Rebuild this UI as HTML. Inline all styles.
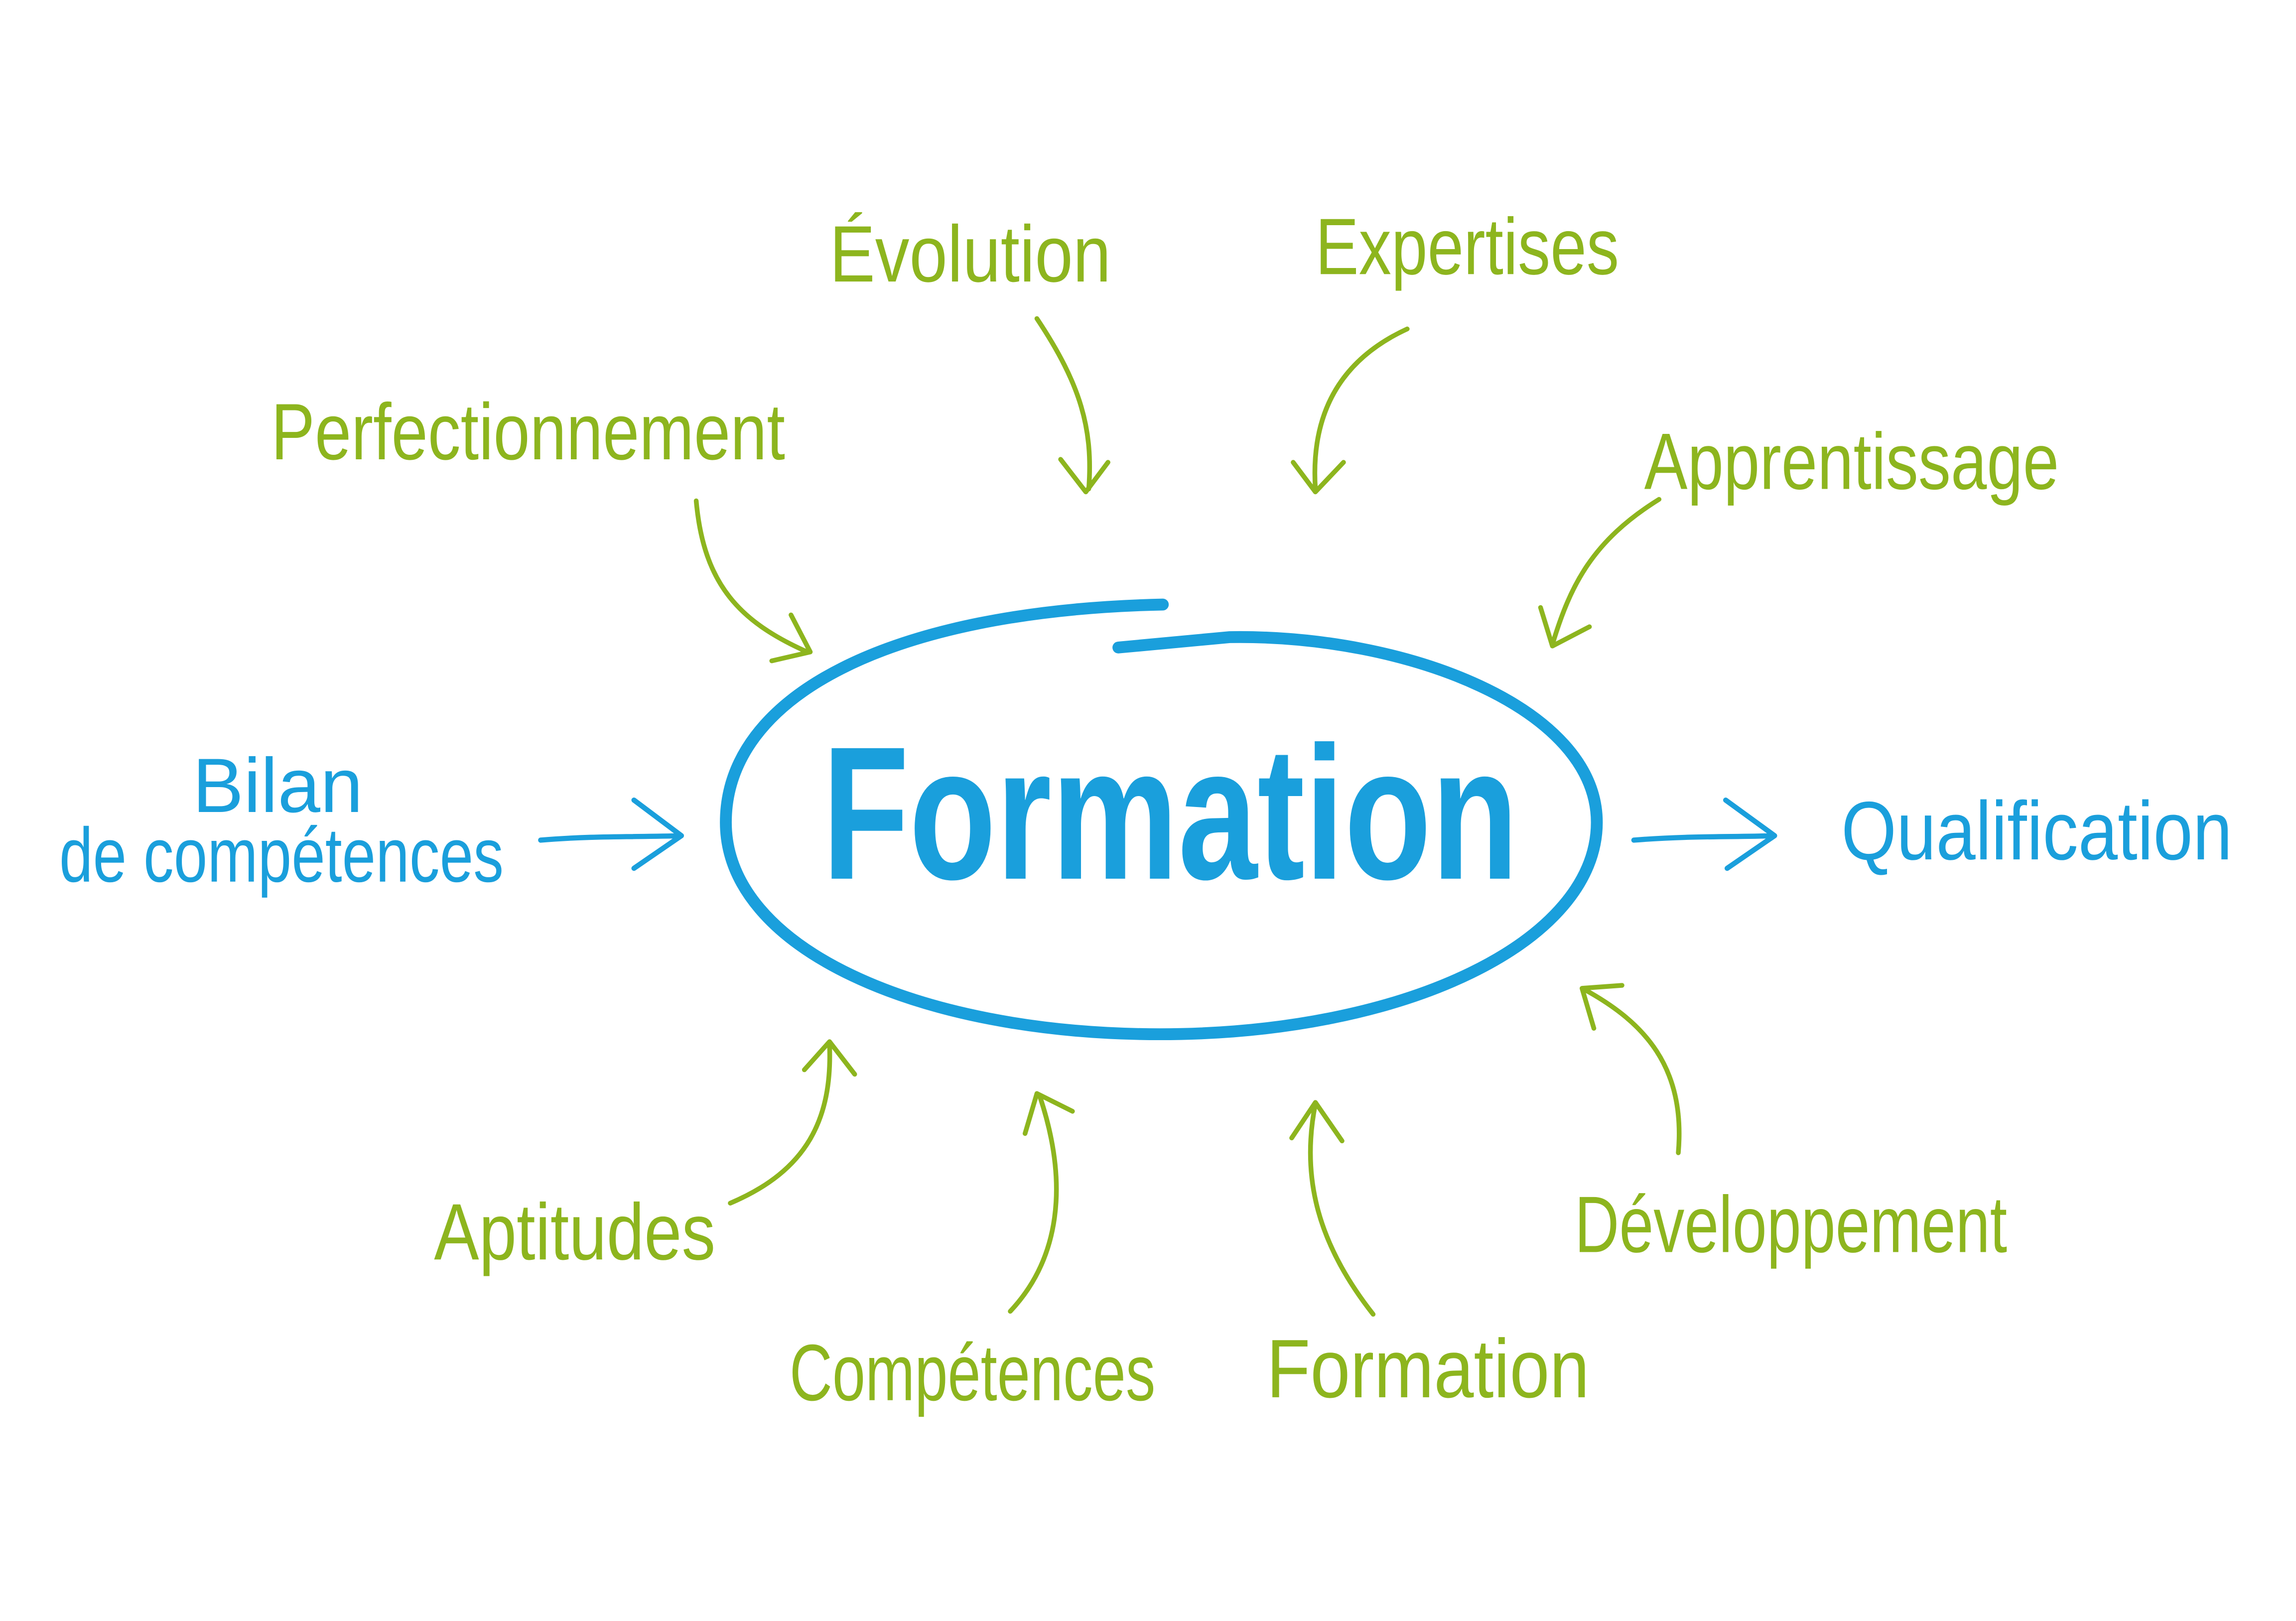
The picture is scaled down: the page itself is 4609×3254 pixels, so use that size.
<!DOCTYPE html>
<html><head><meta charset="utf-8">
<style>
html,body{margin:0;padding:0;background:#fff;}
svg{display:block;}
text{font-family:"Liberation Sans",sans-serif;}
.g{fill:#8db51e;}
.b{fill:#1a9fdc;}
.ga{fill:none;stroke:#8db51e;stroke-width:3.2;stroke-linecap:round;stroke-linejoin:round;}
.ba{fill:none;stroke:#1a9fdc;stroke-width:3.5;stroke-linecap:round;stroke-linejoin:round;}
</style></head>
<body>
<svg width="4609" height="3254" viewBox="0 0 1550 1094" preserveAspectRatio="none" xmlns="http://www.w3.org/2000/svg">
<rect width="1550" height="1094" fill="#fff"/>
<path d="M785 408 C600 412 490 470 490 555 C490 640 620 698 783 698 C950 698 1078 635 1078 555 C1078 478 950 428 830 430 L755 437" fill="none" stroke="#1a9fdc" stroke-width="8" stroke-linecap="round"/>
<text class="b" x="555" y="593" font-size="128" font-weight="bold" textLength="470" lengthAdjust="spacingAndGlyphs">Formation</text>

<text class="g" x="560" y="190" font-size="54" textLength="190" lengthAdjust="spacingAndGlyphs">Évolution</text>
<text class="g" x="888" y="185" font-size="54" textLength="205" lengthAdjust="spacingAndGlyphs">Expertises</text>
<text class="g" x="183" y="310" font-size="54" textLength="347" lengthAdjust="spacingAndGlyphs">Perfectionnement</text>
<text class="g" x="1110" y="330" font-size="54" textLength="280" lengthAdjust="spacingAndGlyphs">Apprentissage</text>
<text class="b" x="130" y="548" font-size="52" textLength="115" lengthAdjust="spacingAndGlyphs">Bilan</text>
<text class="b" x="40" y="595" font-size="52" textLength="300" lengthAdjust="spacingAndGlyphs">de compétences</text>
<text class="b" x="1243" y="580" font-size="56" textLength="264" lengthAdjust="spacingAndGlyphs">Qualification</text>
<text class="g" x="293" y="850" font-size="54" textLength="190" lengthAdjust="spacingAndGlyphs">Aptitudes</text>
<text class="g" x="533" y="945" font-size="54" textLength="247" lengthAdjust="spacingAndGlyphs">Compétences</text>
<text class="g" x="855" y="943" font-size="56" textLength="218" lengthAdjust="spacingAndGlyphs">Formation</text>
<text class="g" x="1063" y="845" font-size="54" textLength="292" lengthAdjust="spacingAndGlyphs">Développement</text>

<path class="ga" d="M700 215 C730 260 738 290 735 330 M716 310 L733 332 L748 312"/>
<path class="ga" d="M950 222 C900 245 885 285 888 330 M873 312 L888 332 L907 312"/>
<path class="ga" d="M470 338 C475 395 500 420 545 440 M534 415 L547 440 L521 446"/>
<path class="ga" d="M1120 337 C1075 365 1060 395 1048 435 M1040 410 L1048 436 L1073 423"/>
<path class="ba" d="M365 567 C400 564 430 565 460 564 M428 540 L460 564 L428 586"/>
<path class="ba" d="M1103 567 C1140 564 1170 565 1198 564 M1165 540 L1198 564 L1166 586"/>
<path class="ga" d="M493 812 C545 790 562 755 560 705 M543 722 L560 703 L577 725"/>
<path class="ga" d="M682 885 C715 850 722 800 702 740 M692 765 L700 738 L724 750"/>
<path class="ga" d="M927 887 C890 840 878 795 888 745 M872 768 L888 744 L906 770"/>
<path class="ga" d="M1133 778 C1138 720 1110 690 1070 668 M1076 694 L1068 667 L1095 665"/>
</svg>
</body></html>
